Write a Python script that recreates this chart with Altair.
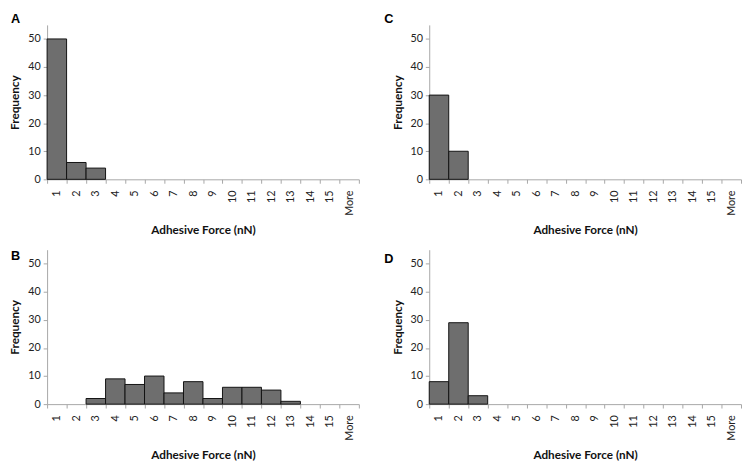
import altair as alt
import pandas as pd

categories = ["1", "2", "3", "4", "5", "6", "7", "8", "9", "10", "11", "12", "13", "14", "15", "More"]
freq_a = [50, 6, 4, 0, 0, 0, 0, 0, 0, 0, 0, 0, 0, 0, 0, 0]
freq_b = [0, 0, 2, 9, 7, 10, 4, 8, 2, 6, 6, 5, 1, 0, 0, 0]
freq_c = [30, 10, 0, 0, 0, 0, 0, 0, 0, 0, 0, 0, 0, 0, 0, 0]
freq_d = [8, 29, 3, 0, 0, 0, 0, 0, 0, 0, 0, 0, 0, 0, 0, 0]
panel_labels = ["A", "B", "C", "D"]

FONT = "Lato"


def panel(label, values, lx, ly):
    df = pd.DataFrame({"force": categories, "freq": values})
    bars = (
        alt.Chart(df)
        .transform_filter("datum.freq > 0")
        .mark_bar(color="#6e6e6e", stroke="#111111", strokeWidth=1)
        .encode(
            x=alt.X(
                "force:N",
                sort=categories,
                scale=alt.Scale(domain=categories, paddingInner=0, paddingOuter=0),
                axis=alt.Axis(
                    title="Adhesive Force (nN)",
                    labelAngle=-90,
                    labelAlign="right",
                    labelBaseline="middle",
                    tickBand="extent",
                    labelPadding=7,
                    titlePadding=10,
                ),
            ),
            y=alt.Y(
                "freq:Q",
                scale=alt.Scale(domain=[0, 55], nice=False),
                axis=alt.Axis(
                    title="Frequency",
                    values=[0, 10, 20, 30, 40, 50],
                    labelPadding=3,
                    titlePadding=6,
                ),
            ),
        )
    )
    letter = (
        alt.Chart(pd.DataFrame({"label": [label]}))
        .mark_text(align="left", baseline="middle", font="Liberation Sans", fontSize=13, fontWeight="bold", color="#000000")
        .encode(x=alt.value(lx), y=alt.value(ly), text="label:N")
    )
    return alt.layer(bars, letter).properties(width=319, height=158)


top = alt.hconcat(
    panel(panel_labels[0], freq_a, -37, -6),
    panel(panel_labels[2], freq_c, -46, -6),
    spacing=25,
)
bottom = alt.hconcat(
    panel(panel_labels[1], freq_b, -37, 7),
    panel(panel_labels[3], freq_d, -46, 10),
    spacing=25,
)

chart = (
    alt.vconcat(top, bottom, spacing=14)
    .properties(padding={"left": 1, "top": 0, "right": 0, "bottom": 0})
    .configure_view(stroke=None)
    .configure_axis(
        domainColor="#a6a6a6",
        tickColor="#a6a6a6",
        tickSize=4,
        grid=False,
        labelFont=FONT,
        labelFontSize=11,
        labelColor="#222222",
        titleFont=FONT,
        titleFontSize=12,
        titleFontWeight="bold",
        titleColor="#111111",
    )
)

chart.save("out.html", embed_options={"renderer": "svg", "actions": False})
